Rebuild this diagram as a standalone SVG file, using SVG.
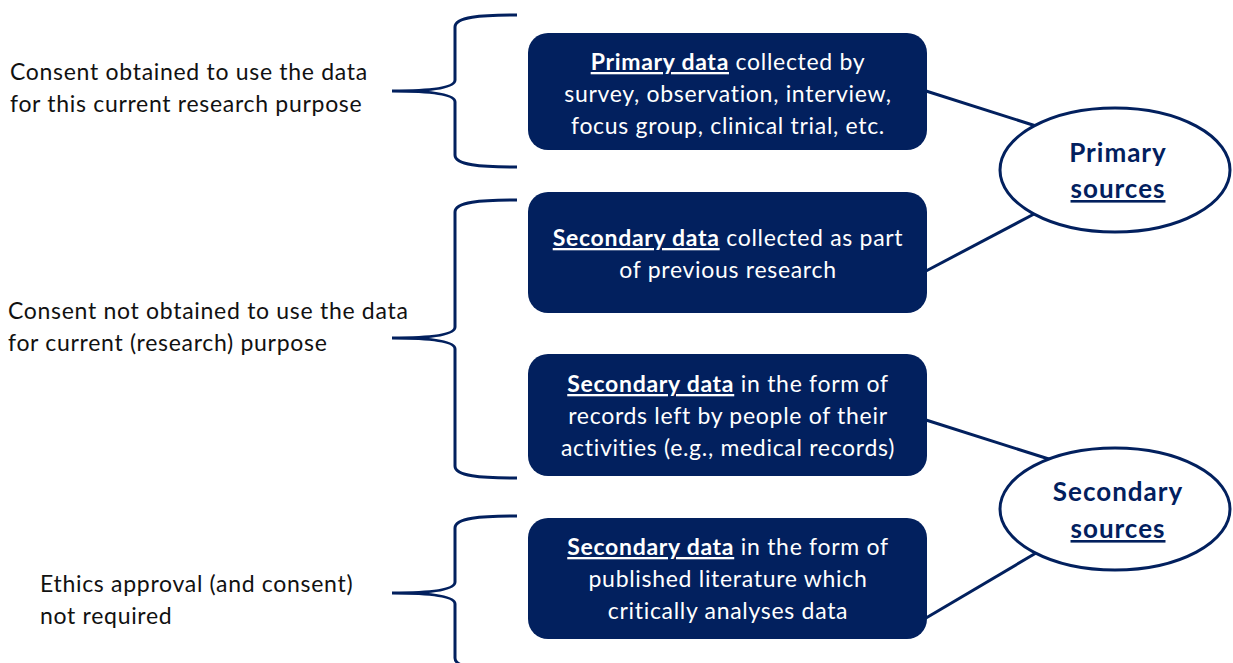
<svg xmlns="http://www.w3.org/2000/svg" width="1233" height="663" viewBox="0 0 1233 663">
<style>
.box{fill:#02205e;}
.bt{font-family:Lato,"Liberation Sans",sans-serif;font-size:23px;letter-spacing:0.7px;fill:#ffffff;text-anchor:middle;}
.lt{font-family:Lato,"Liberation Sans",sans-serif;font-size:23px;letter-spacing:0.7px;fill:#111111;}
.et{font-family:Lato,"Liberation Sans",sans-serif;font-size:26px;letter-spacing:1px;font-weight:bold;fill:#02205e;text-anchor:middle;}
.u{font-weight:bold;text-decoration:underline;}
.ln{stroke:#02205e;stroke-width:3;fill:none;}
.ell{fill:#ffffff;stroke:#02205e;stroke-width:3;}
</style>
<rect width="1233" height="663" fill="#ffffff"/>
<g id="connectors">
<line class="ln" x1="926" y1="91" x2="1036" y2="126"/>
<line class="ln" x1="926" y1="271" x2="1036" y2="213"/>
<line class="ln" x1="926" y1="420" x2="1052" y2="460"/>
<line class="ln" x1="926" y1="618" x2="1036" y2="553"/>
</g>
<g id="braces">
<path class="ln" d="M517,15 C480,15 455,17 455,27 L455,80 C455,88 430,91 392,91 C430,91 455,94 455,102 L455,155 C455,165 480,167 517,167"/>
<path class="ln" d="M517,200 C480,200 455,202 455,212 L455,327 C455,335 430,338 392,338 C430,338 455,341 455,349 L455,466 C455,476 480,478 517,478"/>
<path class="ln" d="M517,516 C480,516 455,518 455,528 L455,582 C455,590 430,593 392,593 C430,593 455,596 455,604 L455,658 C455,668 480,670 517,670"/>
</g>
<g id="label1">
<text class="lt" x="10" y="80">Consent obtained to use the data</text>
<text class="lt" x="10" y="112">for this current research purpose</text>
</g>
<g id="label2">
<text class="lt" x="8" y="319">Consent not obtained to use the data</text>
<text class="lt" x="8" y="351">for current (research) purpose</text>
</g>
<g id="label3">
<text class="lt" x="40" y="592">Ethics approval (and consent)</text>
<text class="lt" x="40" y="624">not required</text>
</g>
<g id="box1">
<rect class="box" x="528" y="33" width="399" height="117" rx="20"/>
<text class="bt" x="728" y="70"><tspan class="u">Primary data</tspan> collected by</text>
<text class="bt" x="728" y="102">survey, observation, interview,</text>
<text class="bt" x="728" y="134">focus group, clinical trial, etc.</text>
</g>
<g id="box2">
<rect class="box" x="528" y="192" width="399" height="121" rx="20"/>
<text class="bt" x="728" y="246"><tspan class="u">Secondary data</tspan> collected as part</text>
<text class="bt" x="728" y="278">of previous research</text>
</g>
<g id="box3">
<rect class="box" x="528" y="354" width="399" height="122" rx="20"/>
<text class="bt" x="728" y="392"><tspan class="u">Secondary data</tspan> in the form of</text>
<text class="bt" x="728" y="424">records left by people of their</text>
<text class="bt" x="728" y="456">activities (e.g., medical records)</text>
</g>
<g id="box4">
<rect class="box" x="528" y="518" width="399" height="121" rx="20"/>
<text class="bt" x="728" y="555"><tspan class="u">Secondary data</tspan> in the form of</text>
<text class="bt" x="728" y="587">published literature which</text>
<text class="bt" x="728" y="619">critically analyses data</text>
</g>
<g id="primary-sources">
<ellipse class="ell" cx="1115" cy="170" rx="115" ry="62"/>
<text class="et" x="1118" y="162">Primary</text>
<text class="et" x="1118" y="198"><tspan text-decoration="underline">sources</tspan></text>
</g>
<g id="secondary-sources">
<ellipse class="ell" cx="1115" cy="509" rx="115" ry="61"/>
<text class="et" x="1118" y="501">Secondary</text>
<text class="et" x="1118" y="538"><tspan text-decoration="underline">sources</tspan></text>
</g>
</svg>
